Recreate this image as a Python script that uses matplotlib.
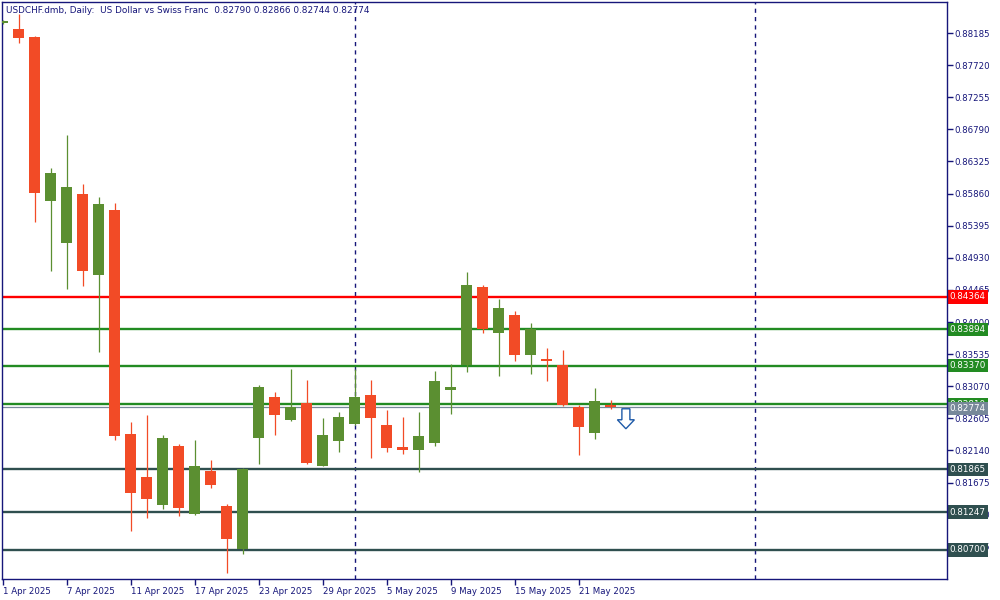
import matplotlib
matplotlib.use("Agg")
import matplotlib.pyplot as plt
from matplotlib.patches import Rectangle, Polygon

# daily OHLC, USDCHF
dates = ["1 Apr 2025", "2 Apr 2025", "3 Apr 2025", "4 Apr 2025", "7 Apr 2025", "8 Apr 2025",
         "9 Apr 2025", "10 Apr 2025", "11 Apr 2025", "14 Apr 2025", "15 Apr 2025", "16 Apr 2025",
         "17 Apr 2025", "18 Apr 2025", "21 Apr 2025", "22 Apr 2025", "23 Apr 2025", "24 Apr 2025",
         "25 Apr 2025", "28 Apr 2025", "29 Apr 2025", "30 Apr 2025", "1 May 2025", "2 May 2025",
         "5 May 2025", "6 May 2025", "7 May 2025", "8 May 2025", "9 May 2025", "12 May 2025",
         "13 May 2025", "14 May 2025", "15 May 2025", "16 May 2025", "19 May 2025", "20 May 2025",
         "21 May 2025", "22 May 2025", "23 May 2025"]
opens = [0.8833, 0.88243, 0.88127, 0.85752, 0.85144, 0.85854, 0.84681, 0.85622, 0.82379, 0.81756,
         0.81350, 0.82205, 0.81220, 0.81843, 0.81336, 0.80713, 0.82321, 0.82914, 0.82581, 0.82827,
         0.81915, 0.82277, 0.82523, 0.82943, 0.82509, 0.82190, 0.82147, 0.82248, 0.83016, 0.83378,
         0.84507, 0.83841, 0.84102, 0.83522, 0.83450, 0.83378, 0.82769, 0.82393, 0.82790]
highs = [0.8837, 0.88460, 0.88140, 0.86230, 0.86708, 0.85999, 0.85810, 0.85723, 0.82552, 0.82654,
         0.82364, 0.82234, 0.82292, 0.82002, 0.81365, 0.81886, 0.83088, 0.82987, 0.83320, 0.83160,
         0.82610, 0.82697, 0.83320, 0.83160, 0.82726, 0.82625, 0.82697, 0.83291, 0.83392, 0.84724,
         0.84536, 0.84333, 0.84160, 0.83986, 0.83624, 0.83595, 0.82798, 0.83045, 0.82866]
lows = [0.8832, 0.88040, 0.85448, 0.84739, 0.84478, 0.84522, 0.83566, 0.82292, 0.80974, 0.81162,
        0.81293, 0.81191, 0.81206, 0.81596, 0.80366, 0.80641, 0.81944, 0.82364, 0.82567, 0.81944,
        0.81915, 0.82118, 0.82509, 0.82031, 0.82118, 0.82090, 0.81828, 0.82205, 0.82668, 0.83276,
        0.83841, 0.83218, 0.83436, 0.83247, 0.83146, 0.82790, 0.82074, 0.82306, 0.82744]
closes = [0.8835, 0.88113, 0.85868, 0.86158, 0.85955, 0.84739, 0.85709, 0.82350, 0.81524, 0.81437,
          0.82321, 0.81307, 0.81915, 0.81640, 0.80858, 0.81872, 0.83059, 0.82654, 0.82769, 0.81959,
          0.82364, 0.82625, 0.82914, 0.82610, 0.82176, 0.82147, 0.82350, 0.83146, 0.83059, 0.84536,
          0.83899, 0.84203, 0.83522, 0.83899, 0.83436, 0.82798, 0.82480, 0.82856, 0.82774]

# horizontal levels (price, colour)
level_prices = [0.84364, 0.83894, 0.83370, 0.82810, 0.81865, 0.81247, 0.80700]
level_colors = ["#FF0000", "#228B22", "#228B22", "#228B22", "#2F4F4F", "#2F4F4F", "#2F4F4F"]
bid = 0.82774
separators = [22, 47]      # month separators (bar index)
yticks = [0.88185, 0.87720, 0.87255, 0.86790, 0.86325, 0.85860, 0.85395, 0.84930, 0.84465,
          0.84000, 0.83535, 0.83070, 0.82605, 0.82140, 0.81675, 0.81210, 0.80745]

NAVY = "#16167A"
BULL, BEAR = "#5B8F31", "#F24B26"
YMIN, YMAX = 0.80279, 0.88634

plt.rcParams["font.family"] = ["DejaVu Sans"]
fig = plt.figure(figsize=(10, 6), dpi=100)
ax = fig.add_axes([0.002, 1 - 579 / 600, 0.945, 577 / 600])
ax.set_xlim(-0.044, 59.02)
ax.set_ylim(YMIN, YMAX)

for i, (o, h, l, c) in enumerate(zip(opens, highs, lows, closes)):
    col = BULL if c >= o else BEAR
    ax.plot([i, i], [l, h], color=col, lw=0.9, zorder=3, solid_capstyle="butt")
    lo, hi = min(o, c), max(o, c)
    hgt = max(hi - lo, 0.00025)
    ax.add_patch(Rectangle((i - 0.34, lo), 0.68, hgt, facecolor=col, edgecolor="none", zorder=4))

for s in separators:
    ax.axvline(s, color=NAVY, lw=1, ls=(0, (3, 3)), zorder=1)

for p, c in zip(level_prices, level_colors):
    ax.axhline(p, color=c, lw=1.7, zorder=2)
ax.axhline(bid, color="#778899", lw=0.9, zorder=2)

# right-hand price tags (drawn under the tick labels, as in the terminal)
ytr = ax.get_yaxis_transform()
for p, c in zip(level_prices, level_colors):
    ax.text(1.003, p, f"{p:.5f}", transform=ytr, color="white", fontsize=6.3,
            va="center", ha="left", zorder=2, clip_on=False,
            bbox=dict(boxstyle="square,pad=0.25", fc=c, ec="none"))
ax.text(1.003, bid - 0.00025, f"{bid:.5f}", transform=ytr, color="white", fontsize=6.3,
        va="center", ha="left", zorder=2.1, clip_on=False,
        bbox=dict(boxstyle="square,pad=0.25", fc="#778899", ec="none"))

# sell arrow under last bar
px_x = 1 / 16.0
px_y = (YMAX - YMIN) / 577.0
cx, top = len(closes) - 1 + 0.95, lows[-1]
shape = [(-4, 0), (4, 0), (4, -11), (8.5, -11), (0, -20), (-8.5, -11), (-4, -11)]
ax.add_patch(Polygon([(cx + a * px_x, top + b * px_y) for a, b in shape], closed=True,
                     facecolor="white", edgecolor="#1E5AA8", lw=1, zorder=6))

ax.text(0.004, 0.993, "USDCHF.dmb, Daily:  US Dollar vs Swiss Franc  "
        f"{opens[-1]:.5f} {highs[-1]:.5f} {lows[-1]:.5f} {closes[-1]:.5f}",
        transform=ax.transAxes, fontsize=6.4, color=NAVY, va="top", ha="left")

ax.yaxis.tick_right()
ax.set_yticks(yticks)
ax.set_yticklabels([f"{t:.5f}" for t in yticks])
xt = list(range(0, len(dates), 4))
ax.set_xticks(xt)
ax.set_xticklabels([dates[i] for i in xt], ha="left")
ax.tick_params(axis="both", colors=NAVY, labelsize=6.2, length=4, width=1, direction="out", pad=1)
ax.tick_params(axis="x", pad=2)
for sp in ax.spines.values():
    sp.set_color(NAVY)
    sp.set_linewidth(1)

fig.savefig("out.png", dpi=100, facecolor="white")
